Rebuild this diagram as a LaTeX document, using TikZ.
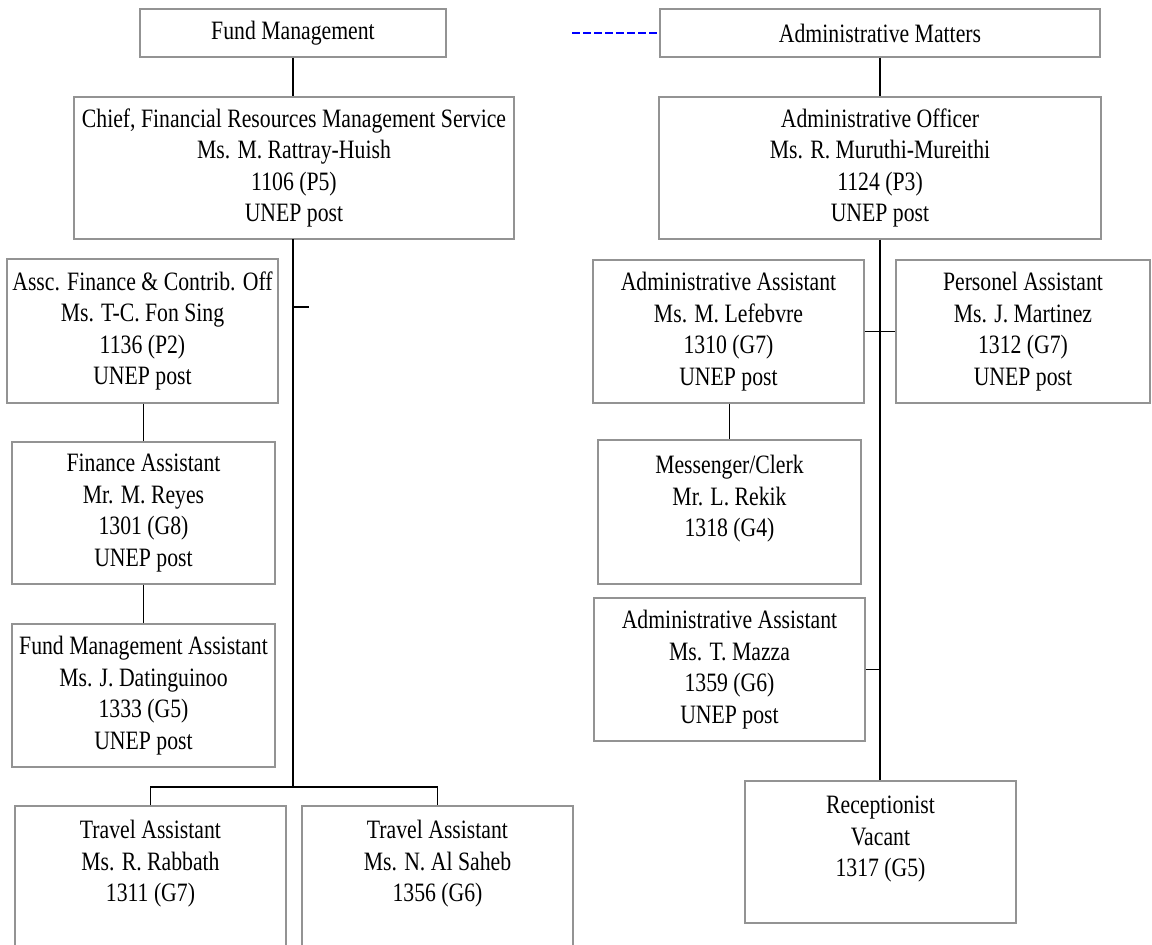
\documentclass[tikz,border=0pt]{standalone}
\usepackage{fontspec}
\setmainfont{Liberation Serif}[FakeStretch=0.82]
\usepackage{xcolor}
\usepackage{tikz}
\usetikzlibrary{calc}

\begin{document}
\begin{tikzpicture}[x=1pt,y=-1pt,
    box/.style={draw=gray!85, line width=1.3pt, align=center, inner sep=0pt,
        font=\fontsize{26.5}{31.5}\selectfont},
    link/.style={line width=1.6pt}]
        %FRAME
        \useasboundingbox (0,0) rectangle (1152,945);
        \clip (0,0) rectangle (1152,945);
        %TOP
        \node[box, minimum width=306, minimum height=48] (fund) at (293,33) {Fund Management};
        \node[box, minimum width=440, minimum height=48] (adminm) at (880,33) {Administrative Matters};
        \coordinate (dashstart) at (572,33);
        \draw[blue, line width=2.8pt, dash pattern=on 8pt off 3pt] (dashstart) -- (adminm.west);
        %HEADS
        \node[box, minimum width=440, minimum height=142] (chief) at (294,168) {Chief, Financial Resources Management Service\\Ms. M. Rattray-Huish\\1106 (P5)\\UNEP post};
        \node[box, minimum width=442, minimum height=142] (officer) at (880,168) {Administrative Officer\\Ms. R. Muruthi-Mureithi\\1124 (P3)\\UNEP post};
        \draw[link] (fund.south) -- (fund.south |- chief.north);
        \draw[link] (adminm.south) -- (officer.north);
        %FINANCE SIDE
        \node[box, minimum width=271, minimum height=144] (assc) at (142.5,331) {Assc. Finance \& Contrib. Off\\Ms. T-C. Fon Sing\\1136 (P2)\\UNEP post};
        \node[box, minimum width=263, minimum height=142] (finance) at (143.5,513) {Finance Assistant\\Mr. M. Reyes\\1301 (G8)\\UNEP post};
        \node[box, minimum width=263, minimum height=143] (fma) at (143.5,695.5) {Fund Management Assistant\\Ms. J. Datinguinoo\\1333 (G5)\\UNEP post};
        \node[box, minimum width=271, minimum height=142] (travelA) at (150.5,877) {Travel Assistant\\Ms. R. Rabbath\\1311 (G7)\\~};
        \node[box, minimum width=271, minimum height=142] (travelB) at (437.5,877) {Travel Assistant\\Ms. N. Al Saheb\\1356 (G6)\\~};
        \coordinate (C1) at (293,239);
        \coordinate (C2) at (293,787);
        \coordinate (T1) at (309,307);
        \draw[link] (C1) -- (C2);
        \draw[link] (C1 |- T1) -- (T1);
        \draw[link] (travelA.north) -- (travelA.north |- C2) -- (travelB.north |- C2) -- (travelB.north);
        \draw[link] (assc.south -| finance.north) -- (finance.north);
        \draw[link] (finance.south) -- (fma.north);
        %ADMIN SIDE
        \node[box, minimum width=271, minimum height=143] (lefebvre) at (728.5,331.5) {Administrative Assistant\\Ms. M. Lefebvre\\1310 (G7)\\UNEP post};
        \node[box, minimum width=254, minimum height=143] (personel) at (1023,331.5) {Personel Assistant\\Ms. J. Martinez\\1312 (G7)\\UNEP post};
        \node[box, minimum width=263, minimum height=144] (messenger) at (729.5,512) {Messenger/Clerk\\Mr. L. Rekik\\1318 (G4)\\~};
        \node[box, minimum width=271, minimum height=143] (mazza) at (729.5,669.5) {Administrative Assistant\\Ms. T. Mazza\\1359 (G6)\\UNEP post};
        \node[box, minimum width=271, minimum height=142] (reception) at (880.5,852) {Receptionist\\Vacant\\1317 (G5)\\~};
        \draw[link] (officer.south) -- (officer.south |- reception.north);
        \draw[link] (lefebvre.east) -- (personel.west);
        \draw[link] (lefebvre.south -| messenger.north) -- (messenger.north);
        \draw[link] (mazza.east) -- (mazza.east -| officer.south);
\end{tikzpicture}
\end{document}
